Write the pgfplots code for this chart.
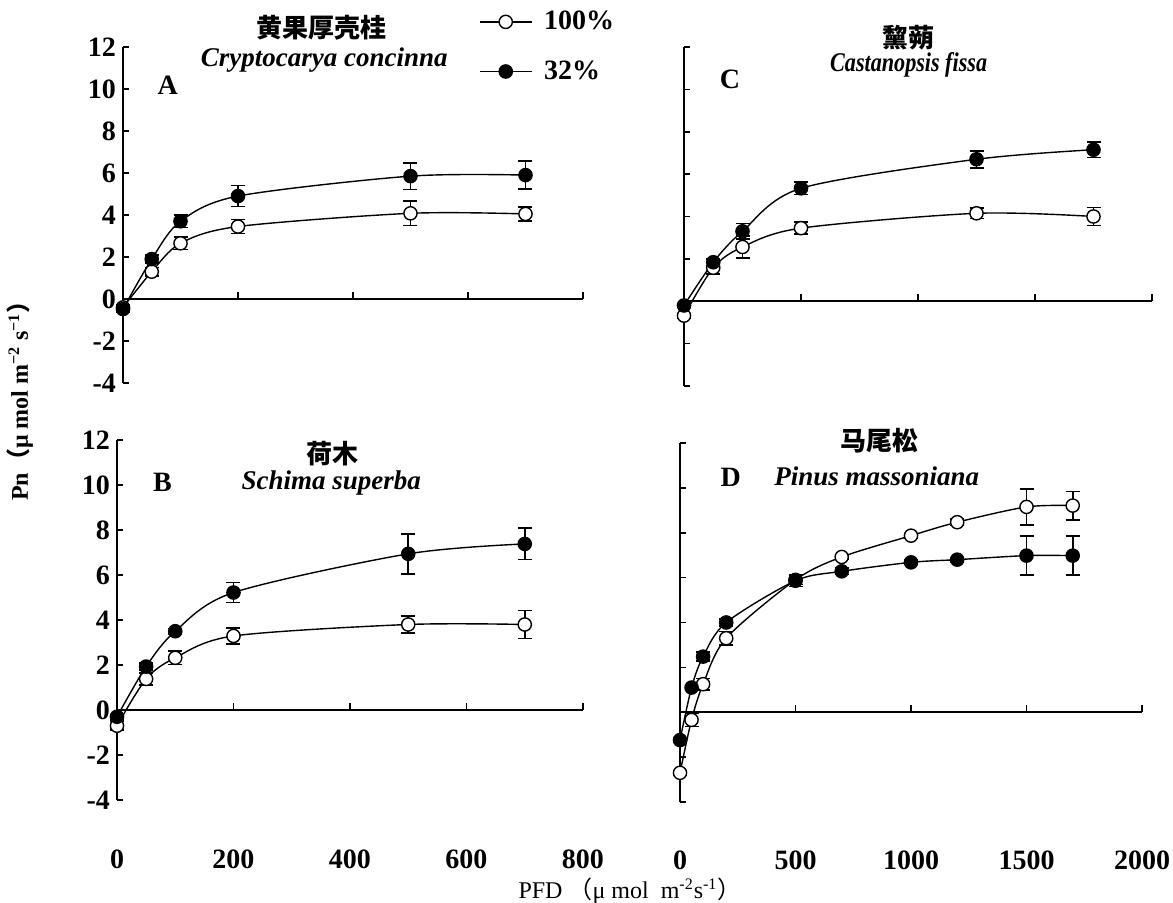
\documentclass[border=0pt]{standalone}
\usepackage{fontspec}
\setmainfont{Liberation Serif}
\newfontfamily\cjk{Noto Sans CJK SC}
\usepackage{pgfplots}
\pgfplotsset{compat=1.18}
\usepackage{pgfplotstable}

% Panel A: Cryptocarya concinna
\pgfplotstableread{
x y e
0 -0.40 0.10
50 1.30 0.20
100 2.65 0.30
200 3.45 0.33
500 4.08 0.59
700 4.05 0.34
}\Aopen
\pgfplotstableread{
x y e
0 -0.48 0.15
50 1.90 0.20
100 3.70 0.30
200 4.90 0.50
500 5.85 0.63
700 5.90 0.67
}\Afill
% Panel B: Schima superba
\pgfplotstableread{
x y e
0 -0.70 0.20
50 1.38 0.26
100 2.32 0.30
200 3.29 0.36
500 3.80 0.37
700 3.80 0.63
}\Bopen
\pgfplotstableread{
x y e
0 -0.30 0.10
50 1.93 0.15
100 3.50 0.12
200 5.22 0.44
500 6.94 0.89
700 7.38 0.70
}\Bfill
% Panel C: Castanopsis fissa
\pgfplotstableread{
x y e
0 -0.68 0.10
125 1.58 0.30
250 2.56 0.52
500 3.45 0.29
1250 4.15 0.25
1750 4.00 0.42
}\Copen
\pgfplotstableread{
x y e
0 -0.20 0.10
125 1.84 0.15
250 3.30 0.36
500 5.33 0.30
1250 6.70 0.40
1750 7.15 0.37
}\Cfill
% Panel D: Pinus massoniana
\pgfplotstableread{
x y e
0 -2.70 0.10
50 -0.34 0.30
100 1.25 0.25
200 3.30 0.30
500 5.90 0.20
700 6.92 0.10
1000 7.87 0.10
1200 8.47 0.15
1500 9.15 0.80
1700 9.21 0.63
}\Dopen
\pgfplotstableread{
x y e
0 -1.24 0.10
50 1.10 0.10
100 2.48 0.20
200 4.00 0.15
500 5.86 0.25
700 6.28 0.15
1000 6.68 0.10
1200 6.80 0.10
1500 6.98 0.87
1700 6.98 0.87
}\Dfill

\pgfplotsset{
  panel/.style={
    scale only axis,
    axis x line=bottom, axis y line=left,
    axis line style={-, line width=0.9pt},
    x axis line style={draw=none},
    xtick style={draw=none},
    ytick={-4,-2,...,12}, ymin=-4, ymax=12, xmin=0,
    tick align=inside, major tick length=3pt,
    ytick style={line width=0.8pt, black},
    clip=false,
    ticklabel style={font=\fontsize{14}{14}\selectfont\bfseries},
    /pgf/number format/assume math mode=true,
    /pgf/number format/1000 sep={},
  },
  openS/.style={black, line width=0.7pt, smooth, tension=0.5,
    mark=*, mark size=3.3pt, mark options={fill=white, solid, line width=0.7pt},
    error bars/.cd, y dir=both, y explicit,
    error bar style={line width=0.8pt, black},
    error mark options={rotate=90, black, mark size=3.5pt, line width=0.8pt}},
  fillS/.style={black, line width=0.7pt, smooth, tension=0.5,
    mark=*, mark size=3.3pt, mark options={fill=black, solid},
    error bars/.cd, y dir=both, y explicit,
    error bar style={line width=0.8pt, black},
    error mark options={rotate=90, black, mark size=3.5pt, line width=0.8pt}},
}
\newcommand{\cnF}{\cjk\bfseries\fontsize{13}{13}\selectfont}
\newcommand{\spF}{\bfseries\itshape\fontsize{13.5}{13.5}\selectfont}
\newcommand{\ltF}{\bfseries\fontsize{14}{14}\selectfont}

\begin{document}
\begin{tikzpicture}
\useasboundingbox (0,0) rectangle (586.5pt,451.5pt);

% ---------- Panel A ----------
\begin{axis}[panel, at={(61.5pt,260pt)}, anchor=south west,
  width=230pt, height=168pt, xmax=800, xtick={0,200,...,800}, xticklabels={},
  legend entries={\hspace{4pt}100\%, \hspace{4pt}32\%},
  legend style={draw=none, fill=none, at={(axis description cs:0.774,1.12)}, anchor=north west,
    font=\ltF, row sep=10pt, inner sep=0pt},
  legend cell align=left,
  legend image code/.code={\draw[mark repeat=2, mark phase=2] plot coordinates {(0cm,0cm) (0.45cm,0cm) (0.9cm,0cm)};}]
\draw[line width=0.9pt] (axis cs:0,0) -- (axis cs:800,0);
\pgfplotsinvokeforeach{200,400,600,800}{\draw[line width=0.8pt] (axis cs:#1,0) -- ++(0pt,3.5pt);}
\addplot+[openS] table[x=x, y=y, y error=e] {\Aopen};
\addplot+[fillS] table[x=x, y=y, y error=e] {\Afill};
\node[font=\cnF] at (axis cs:345,12.9) {黄果厚壳桂};
\node[font=\spF] at (axis cs:350,11.4) {Cryptocarya concinna};
\node[font=\ltF] at (axis cs:78,10.2) {A};
\end{axis}

% ---------- Panel C ----------
\begin{axis}[panel, at={(342pt,258.5pt)}, anchor=south west,
  width=234pt, height=169.5pt, xmax=2000, xtick={0,500,...,2000}, xticklabels={}, yticklabels={}]
\draw[line width=0.9pt] (axis cs:0,0) -- (axis cs:2000,0);
\pgfplotsinvokeforeach{500,1000,1500,2000}{\draw[line width=0.8pt] (axis cs:#1,0) -- ++(0pt,3.5pt);}
\addplot+[openS] table[x=x, y=y, y error=e] {\Copen};
\addplot+[fillS] table[x=x, y=y, y error=e] {\Cfill};
\node[font=\cnF] at (axis cs:960,12.45) {黧蒴};
\node[font=\spF] at (axis cs:960,11.15) {\scalebox{0.82}[1]{Castanopsis fissa}};
\node[font=\ltF] at (axis cs:196,10.45) {C};
\end{axis}

% ---------- Panel B ----------
\begin{axis}[panel, at={(58.5pt,51.5pt)}, anchor=south west,
  width=233pt, height=180pt, xmax=800, xtick={0,200,...,800},
  xticklabel style={yshift=-21.5pt}]
\draw[line width=0.9pt] (axis cs:0,0) -- (axis cs:800,0);
\pgfplotsinvokeforeach{200,400,600,800}{\draw[line width=0.8pt] (axis cs:#1,0) -- ++(0pt,3.5pt);}
\addplot+[openS] table[x=x, y=y, y error=e] {\Bopen};
\addplot+[fillS] table[x=x, y=y, y error=e] {\Bfill};
\node[font=\cnF] at (axis cs:370,11.4) {荷木};
\node[font=\spF] at (axis cs:368,10.1) {Schima superba};
\node[font=\ltF] at (axis cs:78,10.1) {B};
\end{axis}

% ---------- Panel D ----------
\begin{axis}[panel, at={(340pt,50.5pt)}, anchor=south west,
  width=231pt, height=179.5pt, xmax=2000, xtick={0,500,...,2000}, yticklabels={},
  xticklabel style={yshift=-21pt}]
\draw[line width=0.9pt] (axis cs:0,0) -- (axis cs:2000,0);
\pgfplotsinvokeforeach{500,1000,1500,2000}{\draw[line width=0.8pt] (axis cs:#1,0) -- ++(0pt,3.5pt);}
\addplot+[openS] table[x=x, y=y, y error=e] {\Dopen};
\addplot+[fillS] table[x=x, y=y, y error=e] {\Dfill};
\node[font=\cnF] at (axis cs:865,12.1) {马尾松};
\node[font=\spF] at (axis cs:852,10.5) {Pinus massoniana};
\node[font=\ltF] at (axis cs:220,10.45) {D};
\end{axis}

% axis titles
\node[rotate=90, font=\bfseries\fontsize{12}{12}\selectfont] at (10pt,254pt)
  {Pn{\cjk （}μ mol m\textsuperscript{−2} s\textsuperscript{−1}{\cjk ）}};
\node[font=\fontsize{12}{12}\selectfont] at (315pt,6pt)
  {PFD {\cjk （}μ mol\ \ m\textsuperscript{-2}s\textsuperscript{-1}{\cjk ）}};
\end{tikzpicture}
\end{document}
